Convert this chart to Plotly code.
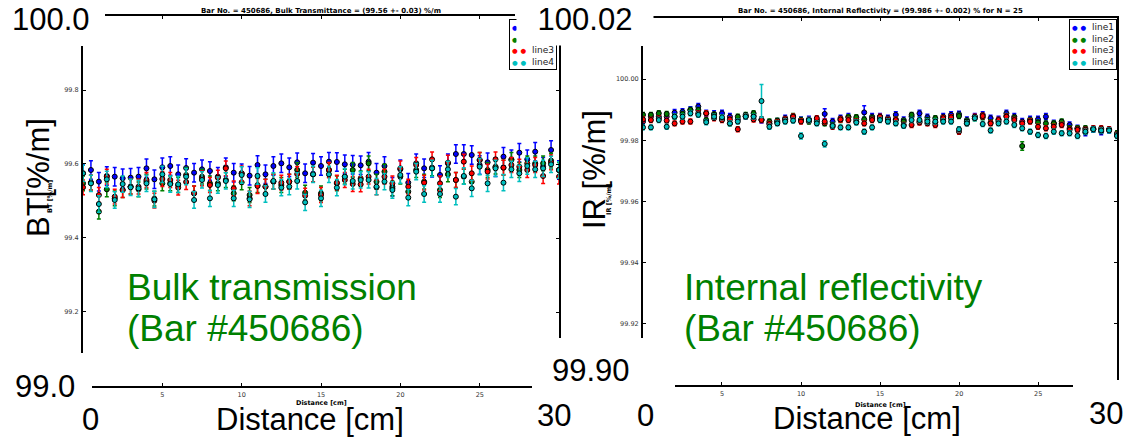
import plotly.graph_objects as go

W, H = 1132, 440

# measurement positions along the bar [cm]
distance = [0.0, 0.5, 1.0, 1.5, 2.0, 2.5, 3.0, 3.5, 4.0, 4.5,
            5.0, 5.5, 6.0, 6.5, 7.0, 7.5, 8.0, 8.5, 9.0, 9.5,
            10.0, 10.5, 11.0, 11.5, 12.0, 12.5, 13.0, 13.5, 14.0, 14.5,
            15.0, 15.5, 16.0, 16.5, 17.0, 17.5, 18.0, 18.5, 19.0, 19.5,
            20.0, 20.5, 21.0, 21.5, 22.0, 22.5, 23.0, 23.5, 24.0, 24.5,
            25.0, 25.5, 26.0, 26.5, 27.0, 27.5, 28.0, 28.5, 29.0, 29.5, 30.0]

series_names = ["line1", "line2", "line3", "line4"]

# bulk transmittance [%/m]
bt_line1 = [99.5748, 99.5838, 99.5523, 99.5676, 99.5658, 99.5613, 99.5631, 99.5658, 99.5883, 99.5586,
            99.5910, 99.5946, 99.5721, 99.5892, 99.5766, 99.5856, 99.5811, 99.5658, 99.5910, 99.5766,
            99.5748, 99.5685, 99.5973, 99.5721, 99.5946, 99.6018, 99.5910, 99.6045, 99.5748, 99.6036,
            99.5946, 99.6063, 99.6054, 99.5991, 99.5982, 99.5964, 99.6063, 99.5766, 99.5946, 99.5387,
            99.5856, 99.5495, 99.6018, 99.5883, 99.5901, 99.5703, 99.6018, 99.6270, 99.6270, 99.6243,
            99.5973, 99.6045, 99.5910, 99.6198, 99.6126, 99.6306, 99.6126, 99.6333, 99.5928, 99.6378, 99.5838]
bt_line2 = [99.5477, 99.5495, 99.4712, 99.5315, 99.5072, 99.5297, 99.5387, 99.5315, 99.5523, 99.5063,
            99.5477, 99.5477, 99.5432, 99.5703, 99.5207, 99.5658, 99.5477, 99.5477, 99.5568, 99.5207,
            99.5505, 99.5162, 99.5432, 99.5387, 99.5523, 99.5432, 99.5523, 99.5838, 99.5225, 99.5721,
            99.5207, 99.5838, 99.5477, 99.5658, 99.5838, 99.5613, 99.6018, 99.5523, 99.5793, 99.5342,
            99.5658, 99.5252, 99.5838, 99.5523, 99.5883, 99.5297, 99.5721, 99.5568, 99.5658, 99.5523,
            99.6108, 99.5838, 99.5928, 99.5901, 99.6108, 99.5838, 99.6018, 99.6018, 99.6018, 99.6090, 99.5838]
bt_line3 = [99.5369, 99.5495, 99.5162, 99.5658, 99.5117, 99.5297, 99.5387, 99.5387, 99.5568, 99.5009,
            99.5595, 99.5568, 99.5360, 99.5514, 99.5207, 99.5613, 99.5432, 99.5631, 99.5883, 99.5342,
            99.5748, 99.5072, 99.5405, 99.5387, 99.5523, 99.5495, 99.5523, 99.5730, 99.5144, 99.5721,
            99.5162, 99.5838, 99.5495, 99.5568, 99.5459, 99.5450, 99.5658, 99.5369, 99.5658, 99.5477,
            99.5883, 99.5387, 99.5973, 99.5495, 99.6126, 99.5477, 99.6036, 99.5568, 99.6063, 99.5748,
            99.6108, 99.5793, 99.6126, 99.5901, 99.5973, 99.5928, 99.5838, 99.5973, 99.5676, 99.6045, 99.5658]
bt_line4 = [99.5748, 99.5477, 99.4919, 99.5586, 99.5027, 99.5459, 99.5369, 99.5342, 99.5477, 99.5045,
            99.5721, 99.5459, 99.5450, 99.5658, 99.5027, 99.5568, 99.5072, 99.5432, 99.5541, 99.5072,
            99.5703, 99.5045, 99.5676, 99.5189, 99.5541, 99.5360, 99.5387, 99.5541, 99.4964, 99.5721,
            99.5072, 99.5721, 99.5360, 99.5658, 99.5541, 99.5568, 99.5568, 99.5387, 99.5523, 99.5297,
            99.5703, 99.5090, 99.5793, 99.5189, 99.5883, 99.5189, 99.5856, 99.5117, 99.5676, 99.5342,
            99.5928, 99.5477, 99.5883, 99.5495, 99.5856, 99.5748, 99.5946, 99.5856, 99.5883, 99.5991, 99.5838]
bt_errors = [0.025, 0.020, 0.020, 0.022]

# internal reflectivity [%]
ir_line1 = [99.9861, 99.9877, 99.9877, 99.9877, 99.9890, 99.9893, 99.9899, 99.9910, 99.9888, 99.9886,
            99.9888, 99.9877, 99.9868, 99.9879, 99.9879, 99.9866, 99.9855, 99.9861, 99.9872, 99.9875,
            99.9866, 99.9868, 99.9866, 99.9886, 99.9861, 99.9872, 99.9877, 99.9868, 99.9891, 99.9877,
            99.9877, 99.9872, 99.9883, 99.9866, 99.9877, 99.9888, 99.9875, 99.9858, 99.9877, 99.9883,
            99.9885, 99.9866, 99.9877, 99.9883, 99.9872, 99.9868, 99.9888, 99.9877, 99.9861, 99.9868,
            99.9868, 99.9877, 99.9855, 99.9855, 99.9850, 99.9839, 99.9825, 99.9836, 99.9828, 99.9834, 99.9817]
ir_line2 = [99.9883, 99.9883, 99.9888, 99.9886, 99.9877, 99.9886, 99.9899, 99.9899, 99.9866, 99.9883,
            99.9870, 99.9855, 99.9877, 99.9883, 99.9888, 99.9868, 99.9861, 99.9864, 99.9866, 99.9879,
            99.9866, 99.9861, 99.9861, 99.9855, 99.9850, 99.9866, 99.9875, 99.9875, 99.9868, 99.9872,
            99.9872, 99.9866, 99.9868, 99.9861, 99.9883, 99.9861, 99.9866, 99.9872, 99.9866, 99.9872,
            99.9879, 99.9861, 99.9872, 99.9875, 99.9858, 99.9861, 99.9879, 99.9872, 99.9781, 99.9864,
            99.9858, 99.9855, 99.9855, 99.9861, 99.9839, 99.9839, 99.9839, 99.9836, 99.9834, 99.9834, 99.9823]
ir_line3 = [99.9868, 99.9866, 99.9872, 99.9864, 99.9855, 99.9861, 99.9861, 99.9888, 99.9888, 99.9872,
            99.9866, 99.9868, 99.9836, 99.9877, 99.9868, 99.9866, 99.9853, 99.9858, 99.9868, 99.9877,
            99.9861, 99.9866, 99.9872, 99.9861, 99.9844, 99.9868, 99.9866, 99.9861, 99.9855, 99.9866,
            99.9877, 99.9866, 99.9866, 99.9850, 99.9850, 99.9858, 99.9855, 99.9850, 99.9872, 99.9875,
            99.9828, 99.9855, 99.9877, 99.9879, 99.9855, 99.9866, 99.9877, 99.9866, 99.9855, 99.9861,
            99.9844, 99.9839, 99.9844, 99.9850, 99.9834, 99.9834, 99.9834, 99.9839, 99.9839, 99.9836, 99.9817]
ir_line4 = [99.9842, 99.9842, 99.9866, 99.9844, 99.9877, 99.9877, 99.9888, 99.9883, 99.9859, 99.9877,
            99.9875, 99.9855, 99.9861, 99.9877, 99.9877, 99.9928, 99.9844, 99.9855, 99.9861, 99.9864,
            99.9814, 99.9866, 99.9855, 99.9788, 99.9847, 99.9842, 99.9842, 99.9858, 99.9828, 99.9842,
            99.9866, 99.9861, 99.9855, 99.9847, 99.9866, 99.9866, 99.9861, 99.9861, 99.9861, 99.9861,
            99.9836, 99.9855, 99.9872, 99.9853, 99.9832, 99.9855, 99.9861, 99.9850, 99.9839, 99.9828,
            99.9817, 99.9814, 99.9828, 99.9823, 99.9823, 99.9814, 99.9828, 99.9836, 99.9832, 99.9832, 99.9814]

ir_err_line1 = [0.0010, 0.0010, 0.0010, 0.0010, 0.0010, 0.0010, 0.0010, 0.0010, 0.0010, 0.0010,
                0.0010, 0.0010, 0.0010, 0.0010, 0.0010, 0.0010, 0.0010, 0.0010, 0.0010, 0.0010,
                0.0010, 0.0010, 0.0010, 0.0017, 0.0010, 0.0010, 0.0010, 0.0010, 0.0022, 0.0010,
                0.0010, 0.0010, 0.0010, 0.0010, 0.0010, 0.0010, 0.0010, 0.0010, 0.0010, 0.0010,
                0.0010, 0.0010, 0.0010, 0.0010, 0.0010, 0.0010, 0.0010, 0.0010, 0.0010, 0.0010,
                0.0010, 0.0010, 0.0010, 0.0010, 0.0010, 0.0010, 0.0010, 0.0010, 0.0010, 0.0010, 0.0010]
ir_err_line2 = [0.0008, 0.0008, 0.0008, 0.0008, 0.0008, 0.0008, 0.0008, 0.0008, 0.0008, 0.0008,
                0.0008, 0.0008, 0.0008, 0.0008, 0.0008, 0.0008, 0.0008, 0.0008, 0.0008, 0.0008,
                0.0008, 0.0008, 0.0008, 0.0008, 0.0008, 0.0008, 0.0008, 0.0008, 0.0008, 0.0008,
                0.0008, 0.0008, 0.0008, 0.0008, 0.0008, 0.0008, 0.0008, 0.0008, 0.0008, 0.0008,
                0.0008, 0.0008, 0.0008, 0.0008, 0.0008, 0.0008, 0.0008, 0.0008, 0.0014, 0.0008,
                0.0008, 0.0008, 0.0008, 0.0008, 0.0008, 0.0008, 0.0008, 0.0008, 0.0008, 0.0008, 0.0008]
ir_err_line3 = [0.0008, 0.0008, 0.0008, 0.0008, 0.0008, 0.0008, 0.0008, 0.0008, 0.0008, 0.0008,
                0.0008, 0.0008, 0.0008, 0.0008, 0.0008, 0.0008, 0.0008, 0.0008, 0.0008, 0.0008,
                0.0008, 0.0008, 0.0008, 0.0008, 0.0008, 0.0008, 0.0008, 0.0008, 0.0008, 0.0008,
                0.0008, 0.0008, 0.0008, 0.0008, 0.0008, 0.0008, 0.0008, 0.0008, 0.0008, 0.0008,
                0.0008, 0.0008, 0.0008, 0.0008, 0.0008, 0.0008, 0.0008, 0.0008, 0.0008, 0.0008,
                0.0008, 0.0008, 0.0008, 0.0008, 0.0008, 0.0008, 0.0008, 0.0008, 0.0008, 0.0008, 0.0008]
ir_err_line4 = [0.0008, 0.0008, 0.0008, 0.0008, 0.0008, 0.0008, 0.0008, 0.0008, 0.0008, 0.0008,
                0.0008, 0.0008, 0.0008, 0.0008, 0.0008, 0.0054, 0.0008, 0.0008, 0.0008, 0.0008,
                0.0010, 0.0008, 0.0008, 0.0010, 0.0008, 0.0008, 0.0008, 0.0008, 0.0008, 0.0008,
                0.0008, 0.0008, 0.0008, 0.0008, 0.0008, 0.0008, 0.0008, 0.0008, 0.0008, 0.0008,
                0.0008, 0.0008, 0.0008, 0.0008, 0.0008, 0.0008, 0.0008, 0.0008, 0.0008, 0.0008,
                0.0008, 0.0008, 0.0008, 0.0008, 0.0008, 0.0008, 0.0008, 0.0008, 0.0008, 0.0008, 0.0008]

bt_ticks = [99.2, 99.4, 99.6, 99.8]
ir_ticks = [99.92, 99.94, 99.96, 99.98, 100.00]
x_ticks = [5, 10, 15, 20, 25]

colors = ["#0000ff", "#008000", "#ff0000", "#00bfbf"]


def px(p):
    return p / W


def py(p):
    return 1 - p / H


fig = go.Figure()

# empty traces first so that the spine axes (which carry no data) get drawn
for xa, ya in [("x3", "y"), ("x4", "y"), ("x", "y3"), ("x", "y4"),
               ("x5", "y2"), ("x6", "y2"), ("x2", "y5"), ("x2", "y6")]:
    fig.add_trace(go.Scatter(x=[None], y=[None], mode="markers", showlegend=False,
                             hoverinfo="skip", xaxis=xa, yaxis=ya))

for name, col, vals, err in zip(series_names, colors,
                                [bt_line1, bt_line2, bt_line3, bt_line4], bt_errors):
    fig.add_trace(go.Scatter(
        x=distance, y=vals, mode="markers", name=name, showlegend=False,
        marker=dict(size=5, color=col, line=dict(color="black", width=1)),
        error_y=dict(type="constant", value=err, color=col, thickness=1.5, width=2),
        xaxis="x", yaxis="y"))

for name, col, vals, err in zip(series_names, colors,
                                [ir_line1, ir_line2, ir_line3, ir_line4],
                                [ir_err_line1, ir_err_line2, ir_err_line3, ir_err_line4]):
    fig.add_trace(go.Scatter(
        x=distance, y=vals, mode="markers", name=name, showlegend=False,
        marker=dict(size=5, color=col, line=dict(color="black", width=1)),
        error_y=dict(type="data", array=err, color=col, thickness=1.5, width=2),
        xaxis="x2", yaxis="y2"))

hidden = dict(visible=False, showgrid=False, zeroline=False)
tickfont = dict(family="DejaVu Sans", size=6.5, color="#333")
spine = dict(showline=True, linecolor="black", linewidth=2, ticks="inside",
             ticklen=3, tickcolor="black", showgrid=False, zeroline=False,
             tickfont=tickfont, ticklabelstandoff=1)

fig.update_layout(
    width=W, height=H,
    margin=dict(l=0, r=0, t=0, b=0),
    paper_bgcolor="white", plot_bgcolor="rgba(0,0,0,0)",
    showlegend=False,
    # --- left panel: bulk transmittance ---
    xaxis=dict(domain=[px(83), px(559)], range=[0, 30], anchor="y", **hidden),
    yaxis=dict(domain=[py(386), py(16)], range=[99.0, 100.0], anchor="x", **hidden),
    xaxis3=dict(domain=[px(92), px(532)], range=[0.57, 28.29], anchor="y", side="bottom",
                tickvals=x_ticks, **spine),
    xaxis4=dict(domain=[px(105), px(515)], range=[1.39, 27.22], anchor="y", side="top",
                tickvals=x_ticks, showticklabels=False, **spine),
    yaxis3=dict(domain=[py(353), py(46)], range=[99.089, 99.919], anchor="x", side="left",
                tickvals=bt_ticks, tickformat=".1f", **spine),
    yaxis4=dict(domain=[py(338), py(45)], range=[99.130, 99.922], anchor="x", side="right",
                tickvals=bt_ticks, showticklabels=False, **spine),
    # --- right panel: internal reflectivity ---
    xaxis2=dict(domain=[px(643), px(1117)], range=[0, 30], anchor="y2", **hidden),
    yaxis2=dict(domain=[py(385.25), py(17.75)], range=[99.90, 100.02], anchor="x2", **hidden),
    xaxis5=dict(domain=[px(675), px(1073)], range=[2.03, 27.2], anchor="y2", side="bottom",
                tickvals=x_ticks, **spine),
    xaxis6=dict(domain=[px(652), px(1118)], range=[0.57, 30.06], anchor="y2", side="top",
                tickvals=x_ticks, showticklabels=False, **spine),
    yaxis5=dict(domain=[py(338), py(46)], range=[99.9154, 100.0108], anchor="x2", side="left",
                tickvals=ir_ticks, tickformat=".2f", **spine),
    yaxis6=dict(domain=[py(380), py(16)], range=[99.9017, 100.0206], anchor="x2", side="right",
                tickvals=ir_ticks, showticklabels=False, **spine),
)


def legend_text():
    rows = []
    for name, col in zip(series_names, colors):
        dot = f"<span style='color:{col};font-size:6.5px'>●</span>"
        rows.append(f"{dot} {dot}  {name}")
    return "<br>".join(rows)


small_bold = dict(family="DejaVu Sans", size=7, color="black")
small_label = dict(family="DejaVu Sans", size=6.5, color="black")
legend_font = dict(family="DejaVu Sans", size=9, color="#222")
big = dict(family="Liberation Sans, Arial", size=31, color="black")
green = dict(family="Liberation Sans, Arial", size=37, color="#008000")

annotations = [
    # matplotlib titles and axis labels
    dict(text="<b>Bar No. = 450686, Bulk Transmittance = (99.56 +- 0.03) %/m</b>",
         x=15, xref="x", y=py(11), font=small_bold),
    dict(text="<b>Bar No. = 450686, Internal Reflectivity = (99.986 +- 0.002) % for N = 25</b>",
         x=15, xref="x2", y=py(11), font=small_bold),
    dict(text="<b>Distance [cm]</b>", x=15, xref="x", y=py(403), font=small_label),
    dict(text="<b>Distance [cm]</b>", x=15, xref="x2", y=py(405), font=small_label),
    dict(text="<b>BT [%/m]</b>", x=px(50), y=py(197), textangle=-90, font=small_label),
    dict(text="<b>IR [%/m]</b>", x=px(609), y=py(200), textangle=-90, font=small_label),
    # legends
    dict(text=legend_text(), x=px(509), y=py(19), xanchor="left", yanchor="top",
         align="left", font=legend_font, bgcolor="white", bordercolor="black",
         borderwidth=1, borderpad=2),
    dict(text=legend_text(), x=px(1069), y=py(19), xanchor="left", yanchor="top",
         align="left", font=legend_font, bgcolor="white", bordercolor="black",
         borderwidth=1, borderpad=2),
    # slide overlay text
    dict(text="100.0", x=px(51), y=py(19), font=big),
    dict(text="99.0", x=px(45), y=py(386), font=big),
    dict(text="0", x=px(90), y=py(419), font=big),
    dict(text="Distance [cm]", x=px(310), y=py(419), font=big),
    dict(text="30", x=px(554), y=py(415), font=big),
    dict(text="BT[%/m]", x=px(38), y=py(178), textangle=-90, font=big),
    dict(text="100.02", x=px(585), y=py(19), font=big, bgcolor="white",
         width=134, height=50),
    dict(text="99.90", x=px(591), y=py(370), font=big),
    dict(text="0", x=px(646), y=py(415), font=big),
    dict(text="Distance [cm]", x=px(867), y=py(418), font=big),
    dict(text="30", x=px(1106), y=py(413), font=big),
    dict(text="IR [%/m]", x=px(594), y=py(170), textangle=-90, font=big),
    dict(text="Bulk transmission", x=px(125), y=py(287), xanchor="left", font=green),
    dict(text="(Bar #450686)", x=px(125), y=py(328), xanchor="left", font=green),
    dict(text="Internal reflectivity", x=px(682), y=py(287), xanchor="left", font=green),
    dict(text="(Bar #450686)", x=px(682), y=py(328), xanchor="left", font=green),
]
for a in annotations:
    a.setdefault("xref", "paper")
    a.setdefault("yref", "paper")
    a.setdefault("xanchor", "center")
    a.setdefault("yanchor", "middle")
    a["showarrow"] = False
    fig.add_annotation(**a)

# the page's default body margin would shift the figure by 8 px
fig.write_html("out.html", config={"displayModeBar": False},
               post_script="document.body.style.margin = '0';")
